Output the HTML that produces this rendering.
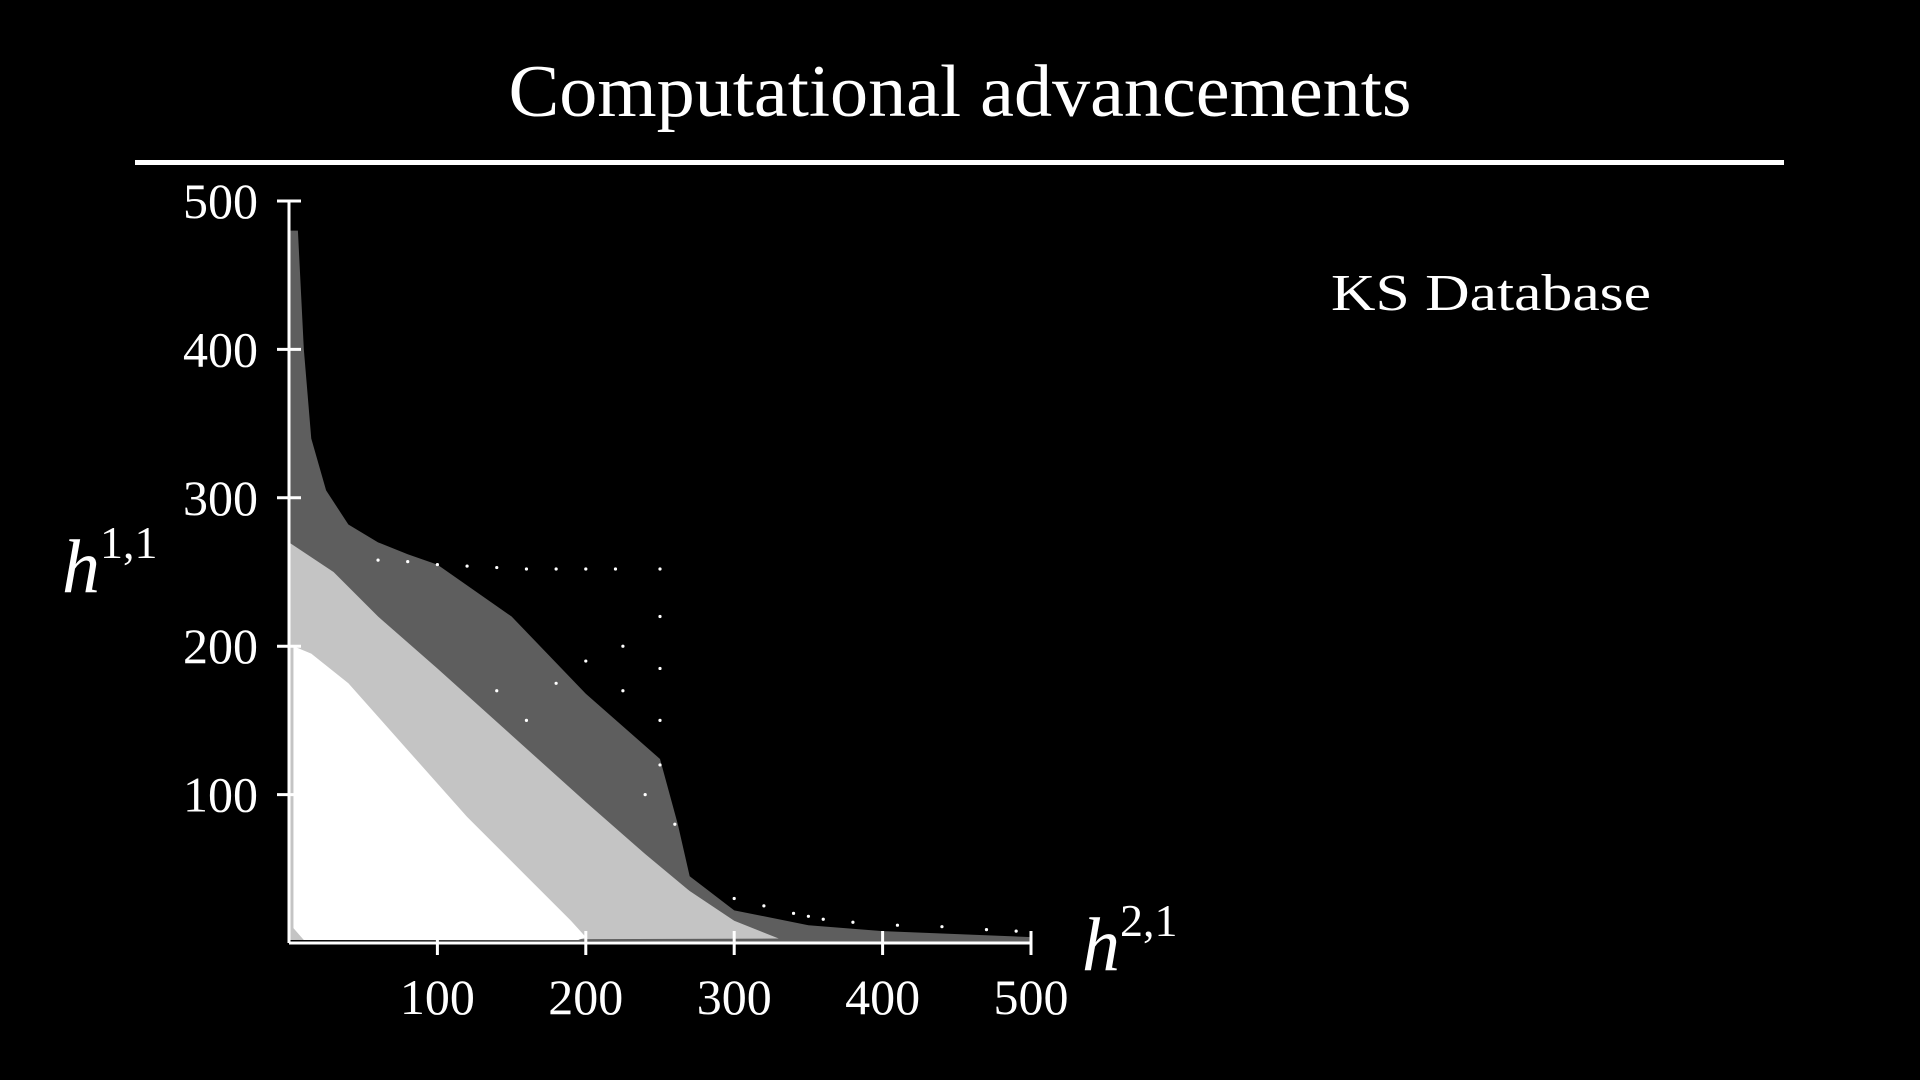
<!DOCTYPE html>
<html><head><meta charset="utf-8">
<style>
html,body{margin:0;padding:0;background:#000;}
body{width:1920px;height:1080px;overflow:hidden;position:relative;font-family:"Liberation Serif",serif;color:#fff;}
</style></head>
<body>
<svg id="chart" width="1920" height="1080" xmlns="http://www.w3.org/2000/svg" style="position:absolute;left:0;top:0">
  <text x="960" y="116" text-anchor="middle" font-family="Liberation Serif, serif" font-size="74" fill="#fff" textLength="903" lengthAdjust="spacingAndGlyphs">Computational advancements</text>
  <rect x="135" y="160" width="1649" height="5" fill="#fff"/>
  <text x="1331" y="310" font-family="Liberation Serif, serif" font-size="52" fill="#fff" textLength="320" lengthAdjust="spacingAndGlyphs">KS Database</text>
  <g id="marks"></g>
  <g id="axes"></g>
  <text x="62" y="592" font-family="Liberation Serif, serif" font-size="76" font-style="italic" fill="#fff">h<tspan font-style="normal" font-size="46" dy="-34">1,1</tspan></text>
  <text x="1082" y="970" font-family="Liberation Serif, serif" font-size="76" font-style="italic" fill="#fff">h<tspan font-style="normal" font-size="46" dy="-34">2,1</tspan></text>
</svg>
<script>
const xTicks = [100, 200, 300, 400, 500];
const yTicks = [100, 200, 300, 400, 500];
// outer sparse envelope (h21, h11)
const outerH21 = [0, 0, 6, 10, 15, 25, 40, 60, 80, 100, 150, 200, 250, 262, 270, 300, 350, 400, 500, 500];
const outerH11 = [2, 480, 480, 400, 340, 305, 282, 270, 262, 255, 220, 168, 124, 80, 45, 22, 12, 8, 4, 0];
// mid density envelope
const midH21 = [0, 0, 30, 60, 100, 150, 200, 240, 270, 300, 330, 0];
const midH11 = [2, 270, 250, 220, 185, 140, 95, 60, 35, 15, 3, 2];
// dense core envelope
const coreH21 = [3, 3, 15, 40, 80, 120, 160, 190, 200, 195, 10];
const coreH11 = [10, 200, 195, 175, 130, 85, 45, 15, 4, 2, 2];
// sparse isolated points
const sparseH21 = [60,80,100,120,140,160,180,200,220,250,250,250,250,250,225,225,200,180,160,140,240,260,300,320,350,380,410,440,470,490,340,360];
const sparseH11 = [258,257,255,254,253,252,252,252,252,252,220,185,150,120,200,170,190,175,150,170,100,80,30,25,18,14,12,11,9,8,20,16];

const X0 = 289, Y0 = 943, S = 1.484;
const xs = v => X0 + v * S;
const ys = v => Y0 - v * S;
const NS = "http://www.w3.org/2000/svg";
const marks = document.getElementById('marks');
const axes = document.getElementById('axes');

function poly(hx, hy, fill, name) {
  const p = document.createElementNS(NS, 'polygon');
  p.setAttribute('points', hx.map((v, i) => xs(v) + ',' + ys(hy[i])).join(' '));
  p.setAttribute('fill', fill);
  
  
  marks.appendChild(p);
}
poly(outerH21, outerH11, '#5e5e5e', 'sparse-region');
poly(midH21, midH11, '#c4c4c4', 'mid-density-region');
poly(coreH21, coreH11, '#ffffff', 'dense-core-region');
sparseH21.forEach((v, i) => {
  const c = document.createElementNS(NS, 'circle');
  c.setAttribute('cx', xs(v));
  c.setAttribute('cy', ys(sparseH11[i]));
  c.setAttribute('r', 1.6);
  c.setAttribute('fill', '#fff');
  
  
  marks.appendChild(c);
});

function line(x1, y1, x2, y2, name) {
  const l = document.createElementNS(NS, 'line');
  l.setAttribute('x1', x1); l.setAttribute('y1', y1);
  l.setAttribute('x2', x2); l.setAttribute('y2', y2);
  l.setAttribute('stroke', '#fff'); l.setAttribute('stroke-width', 3);
  
  
  axes.appendChild(l);
}
line(xs(0), ys(0), xs(500), ys(0), 'x-axis');
line(xs(0), ys(0), xs(0), ys(500), 'y-axis');
function label(x, y, t, anchor, name) {
  const e = document.createElementNS(NS, 'text');
  e.setAttribute('x', x); e.setAttribute('y', y);
  e.setAttribute('text-anchor', anchor);
  e.setAttribute('font-family', 'Liberation Serif, serif');
  e.setAttribute('font-size', '50');
  e.setAttribute('fill', '#fff');
  e.textContent = t;
  
  
  axes.appendChild(e);
}
xTicks.forEach(v => {
  line(xs(v), ys(0) - 12, xs(v), ys(0) + 12, 'x-tick');
  label(xs(v), 1014, String(v), 'middle', 'x-tick-label');
});
yTicks.forEach(v => {
  line(xs(0) - 12, ys(v), xs(0) + 12, ys(v), 'y-tick');
  label(258, ys(v) + 17, String(v), 'end', 'y-tick-label');
});
</script>
</body></html>
